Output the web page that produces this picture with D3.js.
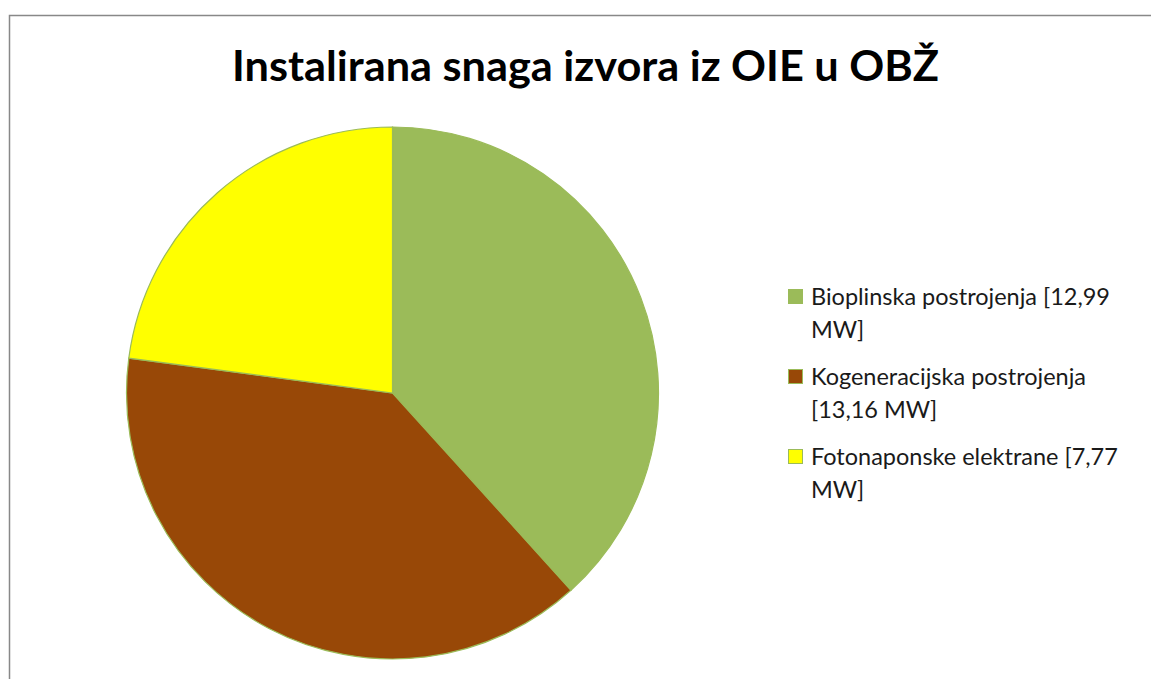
<!DOCTYPE html>
<html><head><meta charset="utf-8">
<script src="https://cdn.jsdelivr.net/npm/d3@7"></script>
<style>body{margin:0;background:#fff}svg{display:block}</style>
</head><body>
<svg id="c" width="1151" height="679"></svg>
<script>
const title = "Instalirana snaga izvora iz OIE u OBŽ";
const categories = ["Bioplinska postrojenja", "Kogeneracijska postrojenja", "Fotonaponske elektrane"];
const values = [12.99, 13.16, 7.77];
const units = ["MW", "MW", "MW"];
const legendLines = [["Bioplinska postrojenja [12,99", "MW]"], ["Kogeneracijska postrojenja", "[13,16 MW]"], ["Fotonaponske elektrane [7,77", "MW]"]];
const colors = ["#9BBB59", "#984807", "#FFFF00"];

const svg = d3.select("#c");
svg.append("rect").attr("x",9.5).attr("y",15.5).attr("width",1160).attr("height",700)
  .attr("fill","#fff").attr("stroke","#888").attr("stroke-width",1.5);

const font = "Lato, 'Open Sans', sans-serif";
const t = svg.append("text").attr("x",232).attr("y",81)
  .attr("font-family",font).attr("font-weight","bold").attr("font-size",42).attr("fill","#000").text(title);
t.attr("textLength",707).attr("lengthAdjust","spacingAndGlyphs");

const cx = 392.5, cy = 393, r = 266;
const pie = d3.pie().sort(null).value(d=>d);
const arc = d3.arc().innerRadius(0).outerRadius(r);
svg.append("g").attr("transform",`translate(${cx},${cy})`)
  .selectAll("path").data(pie(values)).join("path")
  .attr("d",arc).attr("fill",(d,i)=>colors[i]).attr("stroke","#9BBB59").attr("stroke-width",1.2);

const lg = svg.append("g");
const baseY = [305, 385, 465];
const fs = 24;
const texts = [];
legendLines.forEach((lines,i)=>{
  lg.append("rect").attr("x",788.5).attr("y",baseY[i]-15.5).attr("width",14).attr("height",14)
    .attr("fill",colors[i]).attr("stroke","#9BBB59").attr("stroke-width",1);
  lines.forEach((ln,j)=>{
    texts.push(lg.append("text").attr("x",811).attr("y",baseY[i]+j*32.5)
      .attr("font-family",font).attr("font-size",fs).attr("fill","#1a1a1a").text(ln));
  });
});
const k = 299 / texts[0].node().getComputedTextLength();
texts.forEach(s=>{
  const w = s.node().getComputedTextLength();
  s.attr("textLength", w*k).attr("lengthAdjust","spacingAndGlyphs");
});
</script>
</body></html>
